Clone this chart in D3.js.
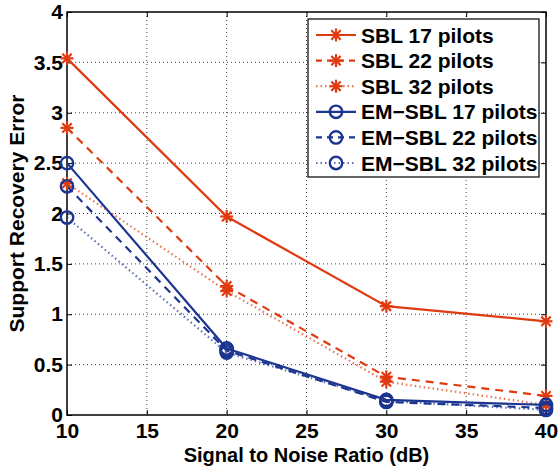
<!DOCTYPE html>
<html><head><meta charset="utf-8">
<script src="https://cdn.jsdelivr.net/npm/d3@7"></script>
<style>body{margin:0;background:#fff}svg{display:block}text{font-family:"Liberation Sans",Arial,sans-serif;font-weight:bold}</style>
</head><body><div id="chart"></div>
<script>
const snr = [10, 20, 30, 40];
const sbl17 = [3.54, 1.97, 1.08, 0.93];
const sbl22 = [2.85, 1.28, 0.38, 0.19];
const sbl32 = [2.30, 1.23, 0.33, 0.10];
const em17 = [2.50, 0.66, 0.15, 0.10];
const em22 = [2.27, 0.64, 0.13, 0.07];
const em32 = [1.96, 0.62, 0.14, 0.05];
const xTicks = [10, 15, 20, 25, 30, 35, 40];
const yTicks = [0, 0.5, 1, 1.5, 2, 2.5, 3, 3.5, 4];
const seriesNames = ["SBL 17 pilots","SBL 22 pilots","SBL 32 pilots","EM\u2212SBL 17 pilots","EM\u2212SBL 22 pilots","EM\u2212SBL 32 pilots"];

const RED = "#e03a10", BLUE = "#1c3590";
const series = [
  {name: seriesNames[0], v: sbl17, color: RED, dash: null, marker: "star", op: 1},
  {name: seriesNames[1], v: sbl22, color: RED, dash: "8,6", marker: "star", op: 1},
  {name: seriesNames[2], v: sbl32, color: RED, dash: "1.5,3", marker: "star", op: 0.7},
  {name: seriesNames[3], v: em17, color: BLUE, dash: null, marker: "circle", op: 1},
  {name: seriesNames[4], v: em22, color: BLUE, dash: "8,6", marker: "circle", op: 1},
  {name: seriesNames[5], v: em32, color: BLUE, dash: "1.5,3", marker: "circle", op: 0.7}
];

const W = 560, H = 466, FS = 21;
const L = 67, R = 546, T = 12, B = 415;
const svg = d3.select("#chart").append("svg").attr("width", W).attr("height", H);
const x = d3.scaleLinear().domain([10, 40]).range([L, R]);
const y = d3.scaleLinear().domain([0, 4]).range([B, T]);

// grid
const g = svg.append("g");
g.selectAll("line.gx").data(xTicks.slice(1, -1)).enter().append("line")
  .attr("x1", d => x(d)).attr("x2", d => x(d)).attr("y1", T).attr("y2", B)
  .attr("stroke", "#444").attr("stroke-width", 1).attr("stroke-dasharray", "1,3");
g.selectAll("line.gy").data(yTicks.slice(1, -1)).enter().append("line")
  .attr("y1", d => y(d)).attr("y2", d => y(d)).attr("x1", L).attr("x2", R)
  .attr("stroke", "#444").attr("stroke-width", 1).attr("stroke-dasharray", "1,3");

// axes
const xb = svg.append("g").attr("transform", `translate(0,${B})`)
  .call(d3.axisBottom(x).tickValues(xTicks).tickSize(-5).tickPadding(8).tickFormat(d3.format("d")));
const xt = svg.append("g").attr("transform", `translate(0,${T})`)
  .call(d3.axisTop(x).tickValues(xTicks).tickSize(-5).tickFormat(""));
const yl = svg.append("g").attr("transform", `translate(${L},0)`)
  .call(d3.axisLeft(y).tickValues(yTicks).tickSize(-5).tickPadding(4).tickFormat(d => d3.format("")(d)));
const yr = svg.append("g").attr("transform", `translate(${R},0)`)
  .call(d3.axisRight(y).tickValues(yTicks).tickSize(-5).tickFormat(""));
[xb, xt, yl, yr].forEach(a => {
  a.selectAll("path").remove();
  a.selectAll("line").attr("stroke", "#000").attr("stroke-width", 1);
  a.selectAll("text").attr("font-size", FS).attr("fill", "#000")
    .style("font-family", '"Liberation Sans",Arial,sans-serif').style("font-weight", "bold");
});
svg.append("rect").attr("x", L).attr("y", T).attr("width", R - L).attr("height", B - T)
  .attr("fill", "none").attr("stroke", "#000").attr("stroke-width", 1.5);

// markers
function drawMarker(sel, type, color, cx, cy) {
  if (type === "star") {
    const r = 6.5;
    const gg = sel.append("g").attr("transform", `translate(${cx},${cy})`);
    [[-r,0,r,0],[0,-r,0,r],[-r*0.72,-r*0.72,r*0.72,r*0.72],[-r*0.72,r*0.72,r*0.72,-r*0.72]].forEach(p => {
      gg.append("line").attr("x1", p[0]).attr("y1", p[1]).attr("x2", p[2]).attr("y2", p[3])
        .attr("stroke", color).attr("stroke-width", 2.2);
    });
  } else {
    sel.append("circle").attr("cx", cx).attr("cy", cy).attr("r", 6.2)
      .attr("fill", "none").attr("stroke", color).attr("stroke-width", 2.4);
  }
}

const line = d3.line().x((d, i) => x(snr[i])).y(d => y(d));
const plot = svg.append("g");
series.forEach(s => {
  const p = plot.append("path").attr("d", line(s.v)).attr("fill", "none")
    .attr("stroke", s.color).attr("stroke-width", 2.2).attr("stroke-opacity", s.op);
  if (s.dash) p.attr("stroke-dasharray", s.dash);
});
series.forEach(s => {
  s.v.forEach((v, i) => drawMarker(plot, s.marker, s.color, x(snr[i]), y(v)));
});

// legend
const lg = svg.append("g");
lg.append("rect").attr("x", 308).attr("y", 19).attr("width", 231).attr("height", 158)
  .attr("fill", "#fff").attr("stroke", "#000").attr("stroke-width", 1.2);
series.forEach((s, i) => {
  const ly = 35 + i * 25.6;
  const l = lg.append("line").attr("x1", 316).attr("x2", 356).attr("y1", ly).attr("y2", ly)
    .attr("stroke", s.color).attr("stroke-width", 2.2).attr("stroke-opacity", s.op);
  if (s.dash) l.attr("stroke-dasharray", s.dash === "8,6" ? "6,5" : s.dash);
  drawMarker(lg, s.marker, s.color, 336, ly);
  lg.append("text").attr("x", 361).attr("y", ly + 7.5).attr("font-size", FS).attr("fill", "#000").text(s.name);
});

// titles
svg.append("text").attr("x", (L + R) / 2).attr("y", 461.5).attr("text-anchor", "middle")
  .attr("font-size", 20).text("Signal to Noise Ratio (dB)");
svg.append("text").attr("transform", `translate(24,${(T + B) / 2}) rotate(-90)`).attr("text-anchor", "middle")
  .attr("font-size", FS).text("Support Recovery Error");
</script></body></html>
